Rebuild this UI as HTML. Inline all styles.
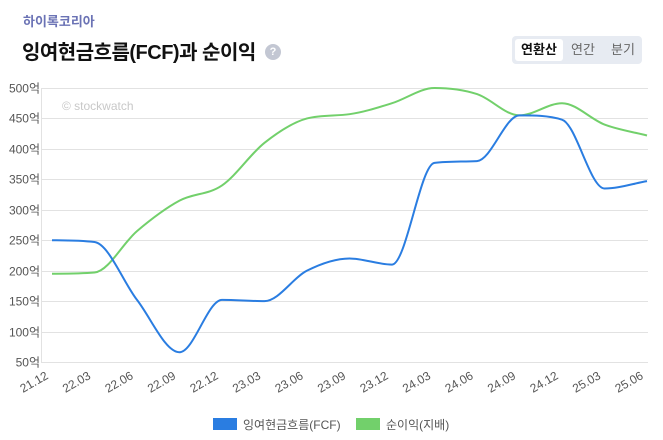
<!DOCTYPE html>
<html><head><meta charset="utf-8"><style>
body{margin:0;width:663px;height:440px;background:#fff;font-family:"Liberation Sans","Noto Sans CJK KR",sans-serif;overflow:hidden;position:relative}
.co{position:absolute;left:23px;top:11px;font-size:13px;font-weight:bold;color:#6b73b5}
.tt{position:absolute;left:22px;top:36px;font-size:20px;font-weight:bold;color:#111;letter-spacing:-0.5px}
.q{position:absolute;left:265px;top:44px;width:16px;height:16px;border-radius:50%;background:#c3c7d3;color:#fff;font-size:11px;font-weight:bold;text-align:center;line-height:16px}
.bg{position:absolute;left:512px;top:36px;width:130px;height:28px;background:#e7ebf2;border-radius:4px}
.b{position:absolute;top:3px;height:22px;line-height:22px;font-size:13px;color:#666}
.act{background:#fff;color:#111;font-weight:bold;border-radius:3px}
</style></head><body>
<div class="co">하이록코리아</div>
<div class="tt">잉여현금흐름(FCF)과 순이익</div>
<div class="q">?</div>
<div class="bg">
<div class="b act" style="left:3px;width:48px;text-align:center">연환산</div>
<div class="b" style="left:59px">연간</div>
<div class="b" style="left:99px">분기</div>
</div>
<svg width="663" height="440" style="position:absolute;left:0;top:0" id="s" font-family="Liberation Sans, Noto Sans CJK KR, sans-serif">
<g id="grid" stroke="#e2e2e2" stroke-width="1"></g>
<line x1="41.5" y1="88" x2="41.5" y2="362" stroke="#e2e2e2"/>
<g id="yl" font-size="12" fill="#555" text-anchor="end"></g>
<text x="62" y="110" font-size="12" fill="#c8c8c8">© stockwatch</text>
<g id="xl" font-size="12" fill="#555"></g>
<path id="ni" fill="none" stroke="#72d06b" stroke-width="2"/>
<path id="fcf" fill="none" stroke="#2a7de1" stroke-width="2"/>
<rect x="213" y="418" width="24" height="12" fill="#2a7de1"/>
<text x="243" y="429" font-size="12" fill="#555">잉여현금흐름(FCF)</text>
<rect x="356" y="418" width="24" height="12" fill="#72d06b"/>
<text x="386" y="429" font-size="12" fill="#555">순이익(지배)</text>
</svg>
<script>
var ns="http://www.w3.org/2000/svg";
function el(t,a,p,txt){var e=document.createElementNS(ns,t);for(var k in a)e.setAttribute(k,a[k]);if(txt)e.textContent=txt;document.getElementById(p).appendChild(e);}
function Y(v){return 362-(v-50)*274/450;}
for(var v=50;v<=500;v+=50){var y=Math.round(Y(v))+0.5;el("line",{x1:41,x2:648,y1:y,y2:y},"grid");el("text",{x:40,y:y+4},"yl",v+"억");}
var lab=["21.12","22.03","22.06","22.09","22.12","23.03","23.06","23.09","23.12","24.03","24.06","24.09","24.12","25.03","25.06"];
var X=[];for(var i=0;i<15;i++){X.push(52+42.5*i);el("text",{x:0,y:0,"text-anchor":"end",transform:"translate("+(X[i]-3)+",378) rotate(-30)"},"xl",lab[i]);}
function path(d){var p=d.map(function(v,i){return[X[i],Y(v)]});var n=p.length,h=42.5;
var dl=[],m=[];for(var i=0;i<n-1;i++)dl.push((p[i+1][1]-p[i][1])/h);
m[0]=dl[0];m[n-1]=dl[n-2];
for(var i=1;i<n-1;i++){m[i]=(dl[i-1]*dl[i]<=0)?0:(dl[i-1]+dl[i])/2;}
for(var i=0;i<n-1;i++){if(dl[i]==0){m[i]=m[i+1]=0;continue;}var a=m[i]/dl[i],b=m[i+1]/dl[i],s=a*a+b*b;if(s>9){var t=3/Math.sqrt(s);m[i]=t*a*dl[i];m[i+1]=t*b*dl[i];}}
var s="M"+p[0][0]+","+p[0][1];
for(var i=0;i<n-1;i++){s+=" C"+(p[i][0]+h/3)+","+(p[i][1]+m[i]*h/3)+" "+(p[i+1][0]-h/3)+","+(p[i+1][1]-m[i+1]*h/3)+" "+p[i+1][0]+","+p[i+1][1];}
return s;}
document.getElementById("fcf").setAttribute("d",path([250,247,152,66,152,150,200,220,210,377,380,455,448,335,347]));
document.getElementById("ni").setAttribute("d",path([195,197,265,315,340,410,450,457,475,500,490,455,475,440,422]));
</script>
</body></html>
